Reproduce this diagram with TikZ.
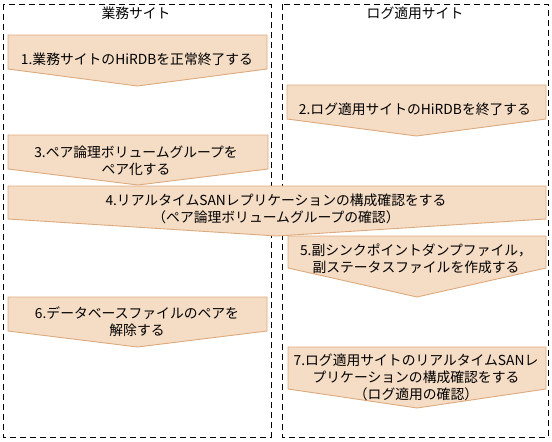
\documentclass[tikz,border=0pt]{standalone}
\usepackage{fontspec}
\setmainfont{Noto Sans CJK JP}
\definecolor{stepfill}{RGB}{245,220,197}
\definecolor{stepline}{RGB}{220,170,124}
\newcommand\stepshape[5]{%
  \path[stepbox] (#1,#3) -- (#2,#3) -- (#2,#4) -- ({(#1+#2)/2},#5) -- (#1,#4) -- cycle;}
\begin{document}
\begin{tikzpicture}[x=1pt,y=-1pt,
  stepbox/.style={fill=stepfill,draw=stepline,line width=0.9pt},
  sitebox/.style={draw=black,line width=0.9pt,dash pattern=on 6pt off 4pt},
  steptext/.style={align=center,inner sep=0pt,font=\fontsize{13.8pt}{17pt}\selectfont},
  titletext/.style={inner sep=0pt,font=\fontsize{13.8pt}{17pt}\selectfont}]
\useasboundingbox (0,0) rectangle (552,442);
% site boxes
\draw[sitebox] (3,4) rectangle (271,437);
\draw[sitebox] (282,4) rectangle (548,437);
\node[titletext] (s1) at (136,13) {業務サイト};
\node[titletext] (s2) at (415,13) {ログ適用サイト};
% steps
\stepshape{8}{267}{35}{69}{86}
\node[steptext] (t1) at (137,59) {1.業務サイトのHiRDBを正常終了する};
\stepshape{287}{546}{85}{119}{136}
\node[steptext] (t2) at (415,109) {2.ログ適用サイトのHiRDBを終了する};
\stepshape{8}{268}{135}{169}{185}
\node[steptext] (t3) at (136,160.5) {3.ペア論理ボリュームグループを\\ペア化する};
\stepshape{8}{546}{186}{219}{236}
\node[steptext] (t4) at (276,209) {4.リアルタイムSANレプリケーションの構成確認をする\\（ペア論理ボリュームグループの確認）};
\stepshape{288}{546}{236}{268}{297}
\node[steptext] (t5) at (416,258.5) {5.副シンクポイントダンプファイル，\\副ステータスファイルを作成する};
\stepshape{8}{267}{297}{331}{347}
\node[steptext] (t6) at (137,321.5) {6.データベースファイルのペアを\\解除する};
\stepshape{288}{546}{347}{389}{408}
\node[steptext] (t7) at (416,377) {7.ログ適用サイトのリアルタイムSANレ\\プリケーションの構成確認をする\\（ログ適用の確認）};
\end{tikzpicture}
\end{document}
